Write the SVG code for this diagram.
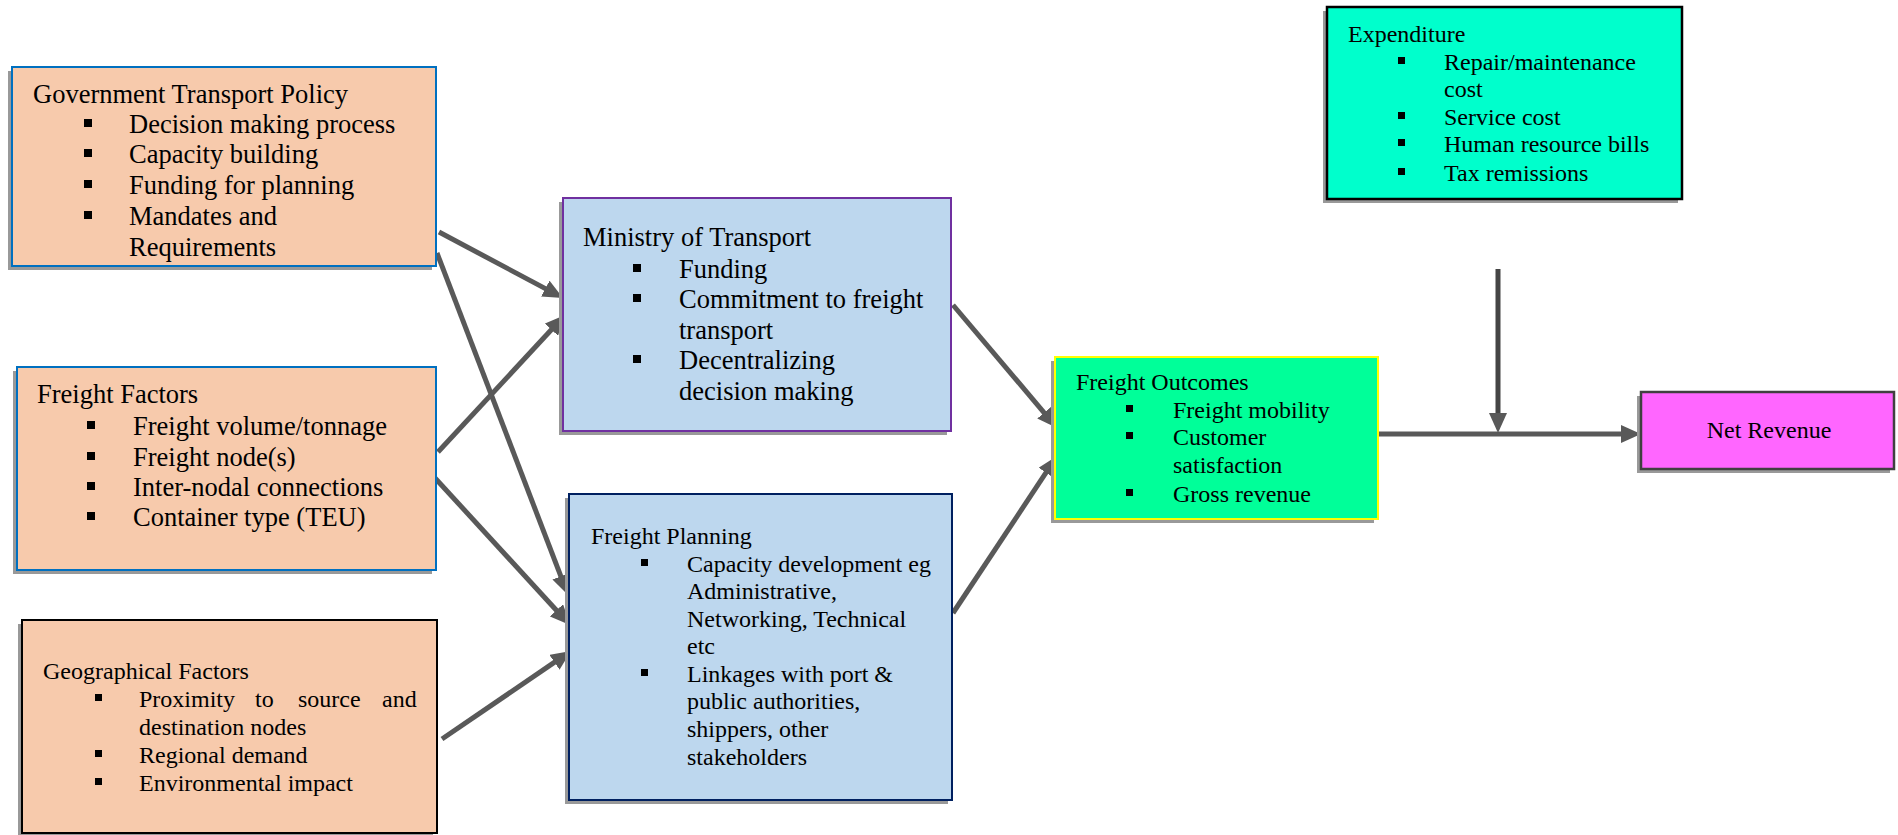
<svg xmlns="http://www.w3.org/2000/svg" width="1898" height="835" viewBox="0 0 1898 835">
<style>
text{font-family:"Liberation Serif","Times New Roman",serif;fill:#000}
.big{font-size:26.5px}
.sm{font-size:24px}
.sh{fill:#999}
.peach{fill:#F7CAAC;stroke-width:2}
.blue{fill:#BDD7EE;stroke-width:2}
.bul{fill:#000}
.conn{stroke:#595959;stroke-width:5;fill:none;marker-end:url(#ah)}
</style>
<defs>
<marker id="ah" markerUnits="userSpaceOnUse" markerWidth="20" markerHeight="18" refX="6" refY="9" orient="auto">
<path d="M0,0 L20,9 L0,18 z" fill="#595959"/>
</marker>
</defs>
<rect width="1898" height="835" fill="#fff"/>

<g id="connectors">
<line class="conn" x1="439" y1="232" x2="550.6" y2="291.4"/>
<line class="conn" x1="437" y1="253" x2="563" y2="581.9"/>
<line class="conn" x1="438" y1="452" x2="555.5" y2="325.3"/>
<line class="conn" x1="435" y1="478" x2="560.5" y2="614.7"/>
<line class="conn" x1="442" y1="739" x2="559.4" y2="658.9"/>
<line class="conn" x1="953" y1="305" x2="1048" y2="417.3"/>
<line class="conn" x1="953" y1="613" x2="1049.3" y2="467.7"/>
<line class="conn" x1="1379" y1="434" x2="1627" y2="434"/>
<line class="conn" x1="1498" y1="269" x2="1498" y2="419" style="stroke:#454545"/>
</g>

<g id="gov-policy">
<rect class="sh" x="8" y="71" width="424" height="199"/>
<rect class="peach" x="12" y="67" width="424" height="199" stroke="#0070C0"/>
<text class="big" x="33" y="103">Government Transport Policy</text>
<rect class="bul" x="84" y="119" width="8" height="8"/>
<rect class="bul" x="84" y="149" width="8" height="8"/>
<rect class="bul" x="84" y="180" width="8" height="8"/>
<rect class="bul" x="84" y="211" width="8" height="8"/>
<text class="big" x="129" y="133">Decision making process</text>
<text class="big" x="129" y="163">Capacity building</text>
<text class="big" x="129" y="194">Funding for planning</text>
<text class="big" x="129" y="225">Mandates and</text>
<text class="big" x="129" y="256">Requirements</text>
</g>

<g id="freight-factors">
<rect class="sh" x="13" y="371" width="419" height="203"/>
<rect class="peach" x="17" y="367" width="419" height="203" stroke="#0070C0"/>
<text class="big" x="37" y="403">Freight Factors</text>
<rect class="bul" x="87" y="421" width="8" height="8"/>
<rect class="bul" x="87" y="452" width="8" height="8"/>
<rect class="bul" x="87" y="482" width="8" height="8"/>
<rect class="bul" x="87" y="512" width="8" height="8"/>
<text class="big" x="133" y="435">Freight volume/tonnage</text>
<text class="big" x="133" y="466">Freight node(s)</text>
<text class="big" x="133" y="496">Inter-nodal connections</text>
<text class="big" x="133" y="526">Container type (TEU)</text>
</g>

<g id="geo-factors">
<rect class="sh" x="18" y="624" width="415" height="213"/>
<rect class="peach" x="22" y="620" width="415" height="213" stroke="#000"/>
<text class="sm" x="43" y="679">Geographical Factors</text>
<rect class="bul" x="95" y="694" width="7" height="7"/>
<rect class="bul" x="95" y="750" width="7" height="7"/>
<rect class="bul" x="95" y="778" width="7" height="7"/>
<text class="sm" y="707"><tspan x="139">Proximity</tspan><tspan x="255">to</tspan><tspan x="298">source</tspan><tspan x="382">and</tspan></text>
<text class="sm" x="139" y="735">destination nodes</text>
<text class="sm" x="139" y="763">Regional demand</text>
<text class="sm" x="139" y="791">Environmental impact</text>
</g>

<g id="ministry">
<rect class="sh" x="559" y="202" width="388" height="233"/>
<rect class="blue" x="563" y="198" width="388" height="233" stroke="#7030A0"/>
<text class="big" x="583" y="246">Ministry of Transport</text>
<rect class="bul" x="633" y="264" width="8" height="8"/>
<rect class="bul" x="633" y="294" width="8" height="8"/>
<rect class="bul" x="633" y="355" width="8" height="8"/>
<text class="big" x="679" y="278">Funding</text>
<text class="big" x="679" y="308">Commitment to freight</text>
<text class="big" x="679" y="339">transport</text>
<text class="big" x="679" y="369">Decentralizing</text>
<text class="big" x="679" y="400">decision making</text>
</g>

<g id="freight-planning">
<rect class="sh" x="565" y="498" width="383" height="306"/>
<rect class="blue" x="569" y="494" width="383" height="306" stroke="#002060"/>
<text class="sm" x="591" y="544">Freight Planning</text>
<rect class="bul" x="641" y="559" width="7" height="7"/>
<rect class="bul" x="641" y="669" width="7" height="7"/>
<text class="sm" x="687" y="572">Capacity development eg</text>
<text class="sm" x="687" y="599">Administrative,</text>
<text class="sm" x="687" y="627">Networking, Technical</text>
<text class="sm" x="687" y="654">etc</text>
<text class="sm" x="687" y="682">Linkages with port &amp;</text>
<text class="sm" x="687" y="709">public authorities,</text>
<text class="sm" x="687" y="737">shippers, other</text>
<text class="sm" x="687" y="765">stakeholders</text>
</g>

<g id="freight-outcomes">
<rect class="sh" x="1051" y="361" width="323" height="162"/>
<rect x="1055" y="357" width="323" height="162" fill="#00FF99" stroke="#FFFF00" stroke-width="2"/>
<text class="sm" x="1076" y="390">Freight Outcomes</text>
<rect class="bul" x="1126" y="405" width="7" height="7"/>
<rect class="bul" x="1126" y="432" width="7" height="7"/>
<rect class="bul" x="1126" y="489" width="7" height="7"/>
<text class="sm" x="1173" y="418">Freight mobility</text>
<text class="sm" x="1173" y="445">Customer</text>
<text class="sm" x="1173" y="473">satisfaction</text>
<text class="sm" x="1173" y="502">Gross revenue</text>
</g>

<g id="expenditure">
<rect class="sh" x="1323" y="11" width="355" height="192"/>
<rect x="1327" y="7" width="355" height="192" fill="#00FFCC" stroke="#000" stroke-width="2.5"/>
<text class="sm" x="1348" y="42">Expenditure</text>
<rect class="bul" x="1398" y="57" width="7" height="7"/>
<rect class="bul" x="1398" y="112" width="7" height="7"/>
<rect class="bul" x="1398" y="139" width="7" height="7"/>
<rect class="bul" x="1398" y="168" width="7" height="7"/>
<text class="sm" x="1444" y="70">Repair/maintenance</text>
<text class="sm" x="1444" y="97">cost</text>
<text class="sm" x="1444" y="125">Service cost</text>
<text class="sm" x="1444" y="152">Human resource bills</text>
<text class="sm" x="1444" y="181">Tax remissions</text>
</g>

<g id="net-revenue">
<rect class="sh" x="1637" y="396" width="253" height="77"/>
<rect x="1641" y="392" width="253" height="77" fill="#FF66FF" stroke="#404040" stroke-width="2.5"/>
<text class="sm" x="1769" y="438" text-anchor="middle">Net Revenue</text>
</g>
</svg>
